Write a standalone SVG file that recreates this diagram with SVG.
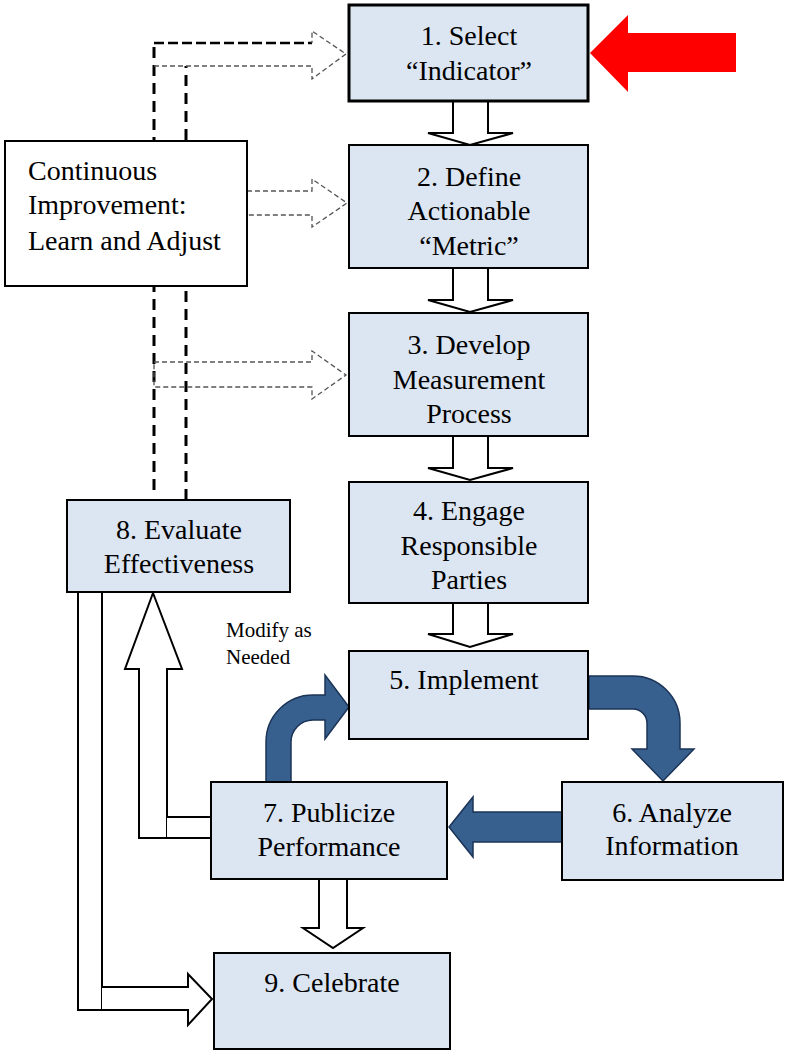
<svg xmlns="http://www.w3.org/2000/svg" width="788" height="1052" viewBox="0 0 788 1052">
<style>
.box{fill:#DCE6F2;stroke:#000;stroke-width:2}
.wbox{fill:#fff;stroke:#000;stroke-width:2}
.t{font-family:"Liberation Serif","Times New Roman",serif;font-size:28px;fill:#000;text-anchor:middle}
.tl{font-family:"Liberation Serif","Times New Roman",serif;font-size:28px;fill:#000}
.sm{font-family:"Liberation Serif","Times New Roman",serif;font-size:21px;fill:#000}
.wa{fill:#fff;stroke:#000;stroke-width:2;stroke-linejoin:miter}
.ba{fill:#37608F;stroke:#1B3356;stroke-width:1.5}
.thin{fill:none;stroke:#555;stroke-width:1.3;stroke-dasharray:5 3}
.heavyv{fill:none;stroke:#000;stroke-width:3;stroke-dasharray:11 7}
.heavyh{fill:none;stroke:#000;stroke-width:2.5;stroke-dasharray:10 4}
</style>
<g id="connectors">
  <!-- heavy dashed feedback lines -->
  <path class="heavyv" d="M154,490 V43"/>
  <path class="heavyh" d="M154,43 H312"/>
  <path class="heavyv" d="M186,500 V66"/>
  <!-- thin dashed arrows -->
  <path class="thin" d="M154,66 H312 V79 L346,54 L312,31 V43"/>
  <path class="thin" d="M247,191 H312 V179 L347,203 L312,227 V215 H247"/>
  <path class="thin" d="M154,362 H312 V351 L346,375 L312,399 V387 H154 Z"/>
  <!-- white block arrows down -->
  <path class="wa" d="M453,101 V133 H428 L470,145 L513,133 H488 V101"/>
  <path class="wa" d="M453,268 V300 H428 L470,312 L513,300 H488 V268"/>
  <path class="wa" d="M453,436 V468 H428 L470,480 L513,468 H488 V436"/>
  <path class="wa" d="M453,603 V634 H428 L470,647 L513,634 H488 V603"/>
  <path class="wa" d="M319,879 V928 H303 L333,948 L363,928 H347 V879"/>
  <!-- 7 to 8 up arrow -->
  <path class="wa" d="M139,838 V669 H125 L153,593 L182,669 H167 V838 Z"/>
  <path class="wa" d="M167,817 H211 V838 H167"/>
  <!-- 8 to 9 L arrow -->
  <path class="wa" d="M78,592 V1010 H102 V592"/>
  <path class="wa" d="M102,987 H188 V974 L212,999 L188,1025 V1010 H102"/>
  <!-- blue arrows -->
  <path class="ba" d="M266,782 V742 A47,47 0 0 1 313,695 H325 V675 L349,707 L325,739 V720 H313 A22,22 0 0 0 291,742 V782 Z"/>
  <path class="ba" d="M589,676 H633 A47,47 0 0 1 680,723 V749 H694 L663,781 L632,749 H647 V723 A14,14 0 0 0 633,709 H589 Z"/>
  <path class="ba" d="M562,812 H473 V797 L449,827 L473,857 V842 H562 Z"/>
  <!-- red pointer -->
  <path fill="#FF0000" d="M736,33 H628 V15 L590,53 L628,92 V72 H736 Z"/>
</g>
<g id="node-ci">
  <rect class="wbox" x="5" y="141" width="242" height="145"/>
  <text class="tl" x="28" y="180">Continuous</text>
  <text class="tl" x="28" y="214">Improvement:</text>
  <text class="tl" x="28" y="250">Learn and Adjust</text>
</g>
<g id="node-1">
  <rect class="box" style="stroke-width:3" x="349" y="5" width="239" height="96"/>
  <text class="t" x="469" y="45">1. Select</text>
  <text class="t" x="469" y="80">“Indicator”</text>
</g>
<g id="node-2">
  <rect class="box" x="349" y="145" width="239" height="123"/>
  <text class="t" x="469" y="186">2. Define</text>
  <text class="t" x="469" y="220">Actionable</text>
  <text class="t" x="469" y="255">“Metric”</text>
</g>
<g id="node-3">
  <rect class="box" x="349" y="313" width="239" height="123"/>
  <text class="t" x="469" y="354">3. Develop</text>
  <text class="t" x="469" y="389">Measurement</text>
  <text class="t" x="469" y="423">Process</text>
</g>
<g id="node-4">
  <rect class="box" x="349" y="482" width="239" height="121"/>
  <text class="t" x="469" y="520">4. Engage</text>
  <text class="t" x="469" y="555">Responsible</text>
  <text class="t" x="469" y="589">Parties</text>
</g>
<g id="node-5">
  <rect class="box" x="349" y="651" width="239" height="88"/>
  <text class="t" x="464" y="689">5. Implement</text>
</g>
<g id="node-6">
  <rect class="box" x="562" y="782" width="221" height="98"/>
  <text class="t" x="672" y="822">6. Analyze</text>
  <text class="t" x="672" y="855">Information</text>
</g>
<g id="node-7">
  <rect class="box" x="211" y="782" width="236" height="97"/>
  <text class="t" x="329" y="822">7. Publicize</text>
  <text class="t" x="329" y="856">Performance</text>
</g>
<g id="node-8">
  <rect class="box" x="67" y="500" width="223" height="92"/>
  <text class="t" x="179" y="539">8. Evaluate</text>
  <text class="t" x="179" y="573">Effectiveness</text>
</g>
<g id="node-9">
  <rect class="box" x="214" y="953" width="236" height="96"/>
  <text class="t" x="332" y="992">9. Celebrate</text>
</g>
<g id="label-modify">
  <text class="sm" x="226" y="637">Modify as</text>
  <text class="sm" x="226" y="664">Needed</text>
</g>
</svg>
